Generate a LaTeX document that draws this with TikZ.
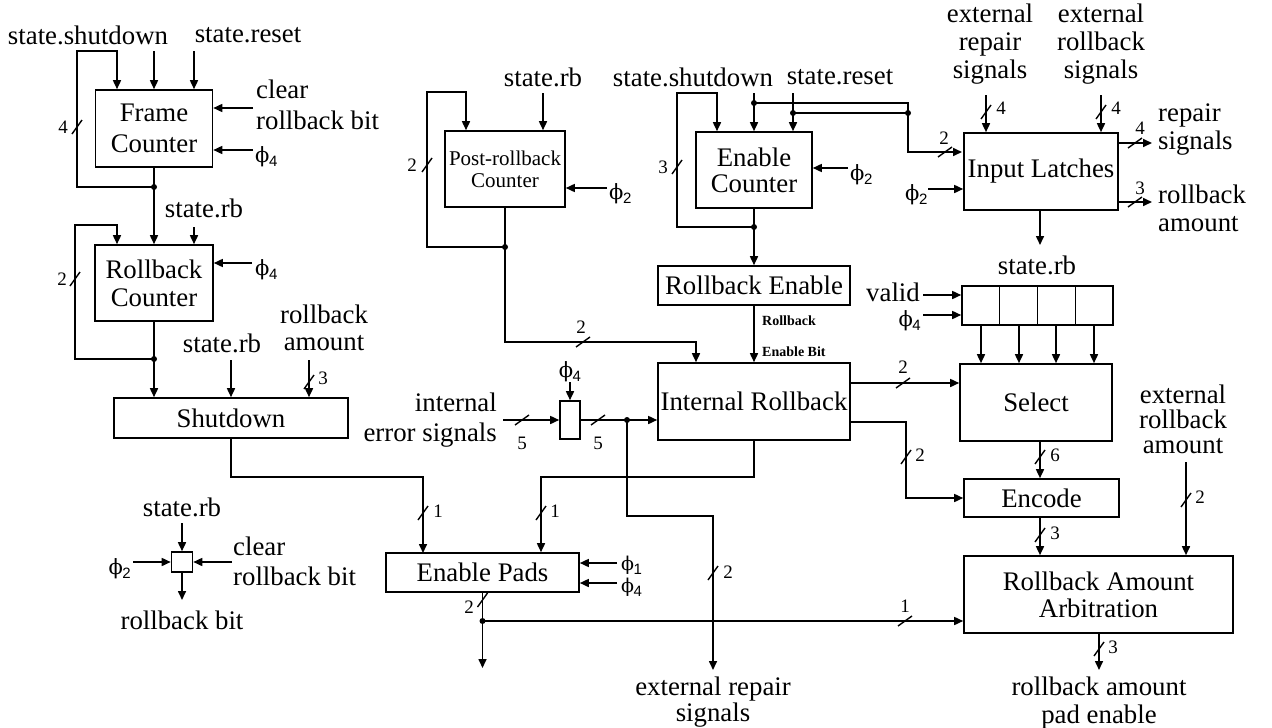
\documentclass[tikz,border=0pt]{standalone}
\usepackage{fontspec}
\setmainfont{Liberation Serif}
\setsansfont{Liberation Sans}
\newfontfamily\phif{DejaVu Serif}
\newcommand\ph[1]{{\phif ϕ}\kern-0.5pt\raisebox{-4pt}{\sffamily\fontsize{15}{15}\selectfont #1}}
\usetikzlibrary{arrows.meta,calc}
\begin{document}
\begin{tikzpicture}[x=1pt,y=-1pt,
  font=\fontsize{26.8}{28}\selectfont,
  every node/.style={inner sep=0pt},
  box/.style={draw,line width=1.6pt,align=center},
  wire/.style={line width=1.6pt},
  arr/.style={line width=1.6pt,-{Triangle[length=9pt,width=8pt]}},
  bs/.style={line width=1.4pt},
  num/.style={font=\fontsize{19}{19}\selectfont},
  phis/.style={font=\fontsize{21}{21}\selectfont},
  tiny/.style={font=\bfseries\fontsize{14}{14}\selectfont,anchor=west}
]
\useasboundingbox (0,0) rectangle (1272,728);

% ================= Frame Counter
\node[box,minimum width=117pt,minimum height=77pt,font=\fontsize{26.8}{31}\selectfont] (fc) at (154,128.5) {Frame\\Counter};
\node (ssd1) at (88,35) {state.shutdown};
\node (sr1) at (248,35) {state.reset};
\coordinate (fcin1) at (117,51);
\coordinate (fcin2) at (154,51);
\coordinate (fcin3) at (194,51);
\coordinate (j1) at (154,187);
\coordinate (fcl) at (77,51);
\draw[arr] (j1) -| (fcl) -- (fcin1) -- (fcin1 |- fc.north);
\draw[arr] (fcin2) -- (fcin2 |- fc.north);
\draw[arr] (fcin3) -- (fcin3 |- fc.north);
\draw[bs] (77,127) ++(-5,7) -- ++(10,-14);
\node[num] (n1) at (63,127) {4};
\node[align=left,anchor=west,font=\fontsize{26.8}{31}\selectfont] (clr1) at (256,105) {clear\\rollback bit};
\coordinate (clr1a) at (253,108);
\draw[arr] (clr1a) -- (clr1a -| fc.east);
\node[phis,anchor=west] (p41) at (255,157) {\ph{4}};
\coordinate (p41a) at (253,150);
\draw[arr] (p41a) -- (p41a -| fc.east);

% ================= Rollback Counter
\node[box,minimum width=118pt,minimum height=76pt] (rc) at (154,283) {Rollback\\Counter};
\draw[arr] (fc.south) -- (rc.north);
\fill (j1) circle (3pt);
\node (srb1) at (204,208) {state.rb};
\coordinate (srb1a) at (194,227);
\draw[arr] (srb1a) -- (srb1a |- rc.north);
\coordinate (j2) at (154,359);
\coordinate (rcl) at (75,225);
\coordinate (rcin1) at (117,225);
\draw[arr] (j2) -| (rcl) -- (rcin1) -- (rcin1 |- rc.north);
\draw[bs] (75,279) ++(-5,7) -- ++(10,-14);
\node[num] (n2) at (62,279) {2};
\node[phis,anchor=west] (p42) at (255,270) {\ph{4}};
\coordinate (p42a) at (252,263);
\draw[arr] (p42a) -- (p42a -| rc.east);

% ================= Shutdown
\node[box,minimum width=234pt,minimum height=40pt] (sd) at (231,418) {Shutdown};
\draw[arr] (rc.south) -- (rc.south |- sd.north);
\fill (j2) circle (3pt);
\node (srb2) at (222,343) {state.rb};
\coordinate (srb2a) at (231,360);
\draw[arr] (srb2a) -- (srb2a |- sd.north);
\node[align=center,font=\fontsize{26.8}{27}\selectfont] (ra1) at (324,328) {rollback\\amount};
\coordinate (ra1a) at (309,360);
\draw[arr] (ra1a) -- (ra1a |- sd.north);
\draw[bs] (309,382) ++(-5,7) -- ++(10,-14);
\node[num] (n3) at (323,378) {3};

% ================= rollback bit flip-flop
\node[draw,line width=1.6pt,minimum width=21pt,minimum height=20pt] (ff) at (182,562) {};
\node (srb3) at (182,507) {state.rb};
\coordinate (srb3a) at (182,523);
\draw[arr] (srb3a) -- (ff.north);
\node[phis,anchor=east] (p21) at (131,569) {\ph{2}};
\coordinate (p21a) at (133,562);
\draw[arr] (p21a) -- (ff.west);
\node[align=left,anchor=west,font=\fontsize{26.8}{30}\selectfont] (clr2) at (233,561) {clear\\rollback bit};
\coordinate (clr2a) at (232,562);
\draw[arr] (clr2a) -- (ff.east);
\coordinate (rbo) at (182,600);
\draw[arr] (ff.south) -- (rbo);
\node (rbbit) at (182,620) {rollback bit};

% ================= Post-rollback Counter
\node[box,minimum width=120pt,minimum height=76pt,font=\fontsize{21}{22}\selectfont] (prc) at (505,169) {Post-rollback\\Counter};
\node (srb4) at (543,77) {state.rb};
\coordinate (srb4a) at (543,93);
\draw[arr] (srb4a) -- (srb4a |- prc.north);
\coordinate (j3) at (505,247);
\coordinate (prl) at (427,92);
\coordinate (prin1) at (466,92);
\draw[arr] (j3) -| (prl) -- (prin1) -- (prin1 |- prc.north);
\draw[bs] (427,165) ++(-5,7) -- ++(10,-14);
\node[num] (n4) at (412,165) {2};
\node[phis,anchor=west] (p22) at (609,194) {\ph{2}};
\coordinate (p22a) at (607,188);
\draw[arr] (p22a) -- (p22a -| prc.east);

% ================= Enable Counter
\node[box,minimum width=116pt,minimum height=76pt,font=\fontsize{26.8}{26}\selectfont] (ec) at (754,170) {Enable\\Counter};
\node (ssd2) at (693,77) {state.shutdown};
\node (sr2) at (840,77) {state.reset};
\coordinate (ec1) at (717,93);
\coordinate (ec2) at (754,93);
\coordinate (ec3) at (793,93);
\coordinate (ecl) at (677,93);
\coordinate (j4) at (754,227);
\draw[arr] (j4) -| (ecl) -- (ec1) -- (ec1 |- ec.north);
\draw[arr] (ec2) -- (ec2 |- ec.north);
\draw[arr] (ec3) -- (ec3 |- ec.north);
\coordinate (j5) at (754,103);
\coordinate (j6) at (793,113);
\coordinate (j7) at (908,113);
\draw[wire] (j5) -| (j7);
\draw[wire] (j6) -- (j7);
\fill (j5) circle (3pt);
\fill (j6) circle (3pt);
\fill (j7) circle (3pt);
\draw[bs] (677,167) ++(-5,7) -- ++(10,-14);
\node[num] (n5) at (663,167) {3};
\node[phis,anchor=west] (p23) at (850,175) {\ph{2}};
\coordinate (p23a) at (848,168);
\draw[arr] (p23a) -- (p23a -| ec.east);

% ================= Rollback Enable / Internal Rollback
\node[box,minimum width=192pt,minimum height=39pt] (re) at (754,285.5) {Rollback Enable};
\node[box,minimum width=192pt,minimum height=77pt] (ir) at (754,401.5) {Internal Rollback};
\draw[arr] (ec.south) -- (j4) -- (re.north);
\fill (j4) circle (3pt);
\draw[arr] (re.south) -- (ir.north);
\node[tiny] (rebl1) at (762,321) {Rollback};
\node[tiny] (rebl2) at (762,352) {Enable Bit};
% post-rollback to internal rollback
\coordinate (prb) at (505,342);
\coordinate (irin1) at (696,342);
\draw[arr] (prc.south) -- (j3) -- (prb) -- (irin1) -- (irin1 |- ir.north);
\fill (j3) circle (3pt);
\draw[bs] (583,342) ++(-7,5) -- ++(14,-10);
\node[num] (n6) at (581,327) {2};

% ================= input latch of error signals
\node[draw,line width=1.6pt,minimum width=20pt,minimum height=38pt] (lt) at (570,420) {};
\node[phis] (p43) at (570,372) {\ph{4}};
\coordinate (p43a) at (570,382);
\draw[arr] (p43a) -- (lt.north);
\node[align=right,anchor=east,font=\fontsize{26.8}{30}\selectfont] (ies) at (497,420) {internal\\error signals};
\coordinate (iesa) at (503,420);
\draw[arr] (iesa) -- (lt.west);
\draw[bs] (522,420) ++(-7,5) -- ++(14,-10);
\node[num] (n7) at (522,443) {5};
\draw[arr] (lt.east) -- (lt.east -| ir.west);
\draw[bs] (598,420) ++(-7,5) -- ++(14,-10);
\node[num] (n8) at (598,443) {5};
\coordinate (j8) at (627,420);
\fill (j8) circle (3pt);
\coordinate (erb) at (713,516);
\coordinate (ers) at (713,670);
\draw[arr] (j8) |- (erb) -- (ers);
\draw[bs] (713,573) ++(-5,7) -- ++(10,-14);
\node[num] (n9) at (728,572) {2};
\node[align=center,font=\fontsize{26.8}{24}\selectfont] (erst) at (713,702) {external repair\\signals};

% ================= Enable Pads
\node[box,minimum width=193pt,minimum height=39pt] (ep) at (482.5,572.5) {Enable Pads};
\coordinate (h1) at (423,477);
\coordinate (epin1) at (423,553);
\draw[arr] (sd.south) |- (h1) -- (epin1);
\coordinate (h2) at (541,477);
\draw[arr] (ir.south) |- (h2) -- (h2 |- ep.north);
\draw[bs] (423,513) ++(-5,7) -- ++(10,-14);
\node[num] (n10) at (438,511) {1};
\draw[bs] (541,513) ++(-5,7) -- ++(10,-14);
\node[num] (n11) at (555,511) {1};
\node[anchor=west,font=\fontsize{19}{19}\selectfont] (p1) at (621,565) {\ph{1}};
\node[anchor=west,font=\fontsize{19}{19}\selectfont] (p45) at (621,587) {\ph{4}};
\coordinate (p1a) at (617,563);
\coordinate (p45a) at (617,583);
\draw[arr] (p1a) -- (p1a -| ep.east);
\draw[arr] (p45a) -- (p45a -| ep.east);
\coordinate (j9) at (482.5,621);
\coordinate (epo) at (482.5,668);
\draw[arr] (ep.south) -- (j9) -- (epo);
\fill (j9) circle (3pt);
\draw[bs] (482.5,600) ++(-5,7) -- ++(10,-14);
\node[num] (n12) at (469,607) {2};

% ================= Input Latches
\node[box,minimum width=154pt,minimum height=77pt] (il) at (1041,171.5) {Input Latches};
\coordinate (ilin1) at (962,152);
\draw[arr] (j7) |- (ilin1);
\draw[bs] (945,152) ++(-7,5) -- ++(14,-10);
\node[num] (n13) at (944,138) {2};
\node[phis,anchor=west] (p24) at (905,195) {\ph{2}};
\coordinate (p24a) at (928,189);
\draw[arr] (p24a) -- (p24a -| il.west);
\node[align=center] (erept) at (990,44) {external\\repair\\signals};
\coordinate (erepa) at (986,95);
\draw[arr] (erepa) -- (erepa |- il.north);
\draw[bs] (986,112) ++(-5,7) -- ++(10,-14);
\node[num] (n14) at (1001,108) {4};
\node[align=center] (erbst) at (1101,44) {external\\rollback\\signals};
\coordinate (erbsa) at (1101,95);
\draw[arr] (erbsa) -- (erbsa |- il.north);
\draw[bs] (1101,112) ++(-5,7) -- ++(10,-14);
\node[num] (n15) at (1116,108) {4};
\coordinate (rso) at (1152,143);
\draw[arr] (il.east |- rso) -- (rso);
\draw[bs] (1135,143) ++(-7,5) -- ++(14,-10);
\node[num] (n16) at (1140,128) {4};
\node[anchor=west,align=left] (rst) at (1158,130) {repair\\signals};
\coordinate (rao) at (1152,202);
\draw[arr] (il.east |- rao) -- (rao);
\draw[bs] (1135,202) ++(-7,5) -- ++(14,-10);
\node[num] (n17) at (1140,188) {3};
\node[anchor=west,align=left] (rat) at (1158,208) {rollback\\amount};
\coordinate (srb5a) at (1040,245);
\draw[arr] (il.south -| srb5a) -- (srb5a);
\node (srb5) at (1037,265) {state.rb};

% ================= Register
\node[draw,line width=1.6pt,minimum width=151pt,minimum height=39pt] (reg) at (1037.5,305.5) {};
\foreach \f in {0.25,0.5,0.75}
  \draw[wire] ($(reg.north west)!\f!(reg.north east)$) -- ($(reg.south west)!\f!(reg.south east)$);
\node[anchor=east] (vld) at (920,292) {valid};
\coordinate (vla) at (923,295);
\draw[arr] (vla) -- (vla -| reg.west);
\node[phis,anchor=east] (p44) at (921,321) {\ph{4}};
\coordinate (p44a) at (923,315);
\draw[arr] (p44a) -- (p44a -| reg.west);

% ================= Select
\node[box,minimum width=152pt,minimum height=77pt] (sel) at (1036,402.5) {Select};
\coordinate (c1) at (981,325);
\coordinate (c2) at (1019,325);
\coordinate (c3) at (1056,325);
\coordinate (c4) at (1094,325);
\draw[arr] (c1) -- (c1 |- sel.north);
\draw[arr] (c2) -- (c2 |- sel.north);
\draw[arr] (c3) -- (c3 |- sel.north);
\draw[arr] (c4) -- (c4 |- sel.north);
\coordinate (y383) at (0,383);
\draw[arr] (ir.east |- y383) -- (y383 -| sel.west);
\draw[bs] (903,383) ++(-7,5) -- ++(14,-10);
\node[num] (n18) at (903,367) {2};

% ================= Encode
\node[box,minimum width=155pt,minimum height=38pt] (enc) at (1041.5,498) {Encode};
\coordinate (b1) at (906,422);
\draw[arr] (ir.east |- b1) -- (b1) |- (enc.west);
\draw[bs] (906,457) ++(-5,7) -- ++(10,-14);
\node[num] (n19) at (920,455) {2};
\coordinate (vx) at (1040,0);
\draw[arr] (vx |- sel.south) -- (vx |- enc.north);
\draw[bs] (1040,457) ++(-5,7) -- ++(10,-14);
\node[num] (n20) at (1055,455) {6};

% ================= Rollback Amount Arbitration
\node[box,minimum width=269pt,minimum height=77pt,font=\fontsize{26.8}{27}\selectfont] (raa) at (1098.5,594.5) {Rollback Amount\\Arbitration};
\draw[arr] (vx |- enc.south) -- (vx |- raa.north);
\draw[bs] (1040,535) ++(-5,7) -- ++(10,-14);
\node[num] (n21) at (1055,533) {3};
\node[align=center,font=\fontsize{26.8}{25}\selectfont] (erat) at (1183,419) {external\\rollback\\amount};
\coordinate (eraa) at (1186,462);
\draw[arr] (eraa) -- (eraa |- raa.north);
\draw[bs] (1186,500) ++(-5,7) -- ++(10,-14);
\node[num] (n22) at (1200,497) {2};
\draw[arr] (j9) -- (j9 -| raa.west);
\draw[bs] (905,621) ++(-7,5) -- ++(14,-10);
\node[num] (n23) at (905,606) {1};
\coordinate (rape) at (1099,670);
\draw[arr] (raa.south -| rape) -- (rape);
\draw[bs] (1099,649) ++(-5,7) -- ++(10,-14);
\node[num] (n24) at (1113,647) {3};
\node[align=center] (rapet) at (1099,703) {rollback amount\\pad enable};
\end{tikzpicture}
\end{document}
